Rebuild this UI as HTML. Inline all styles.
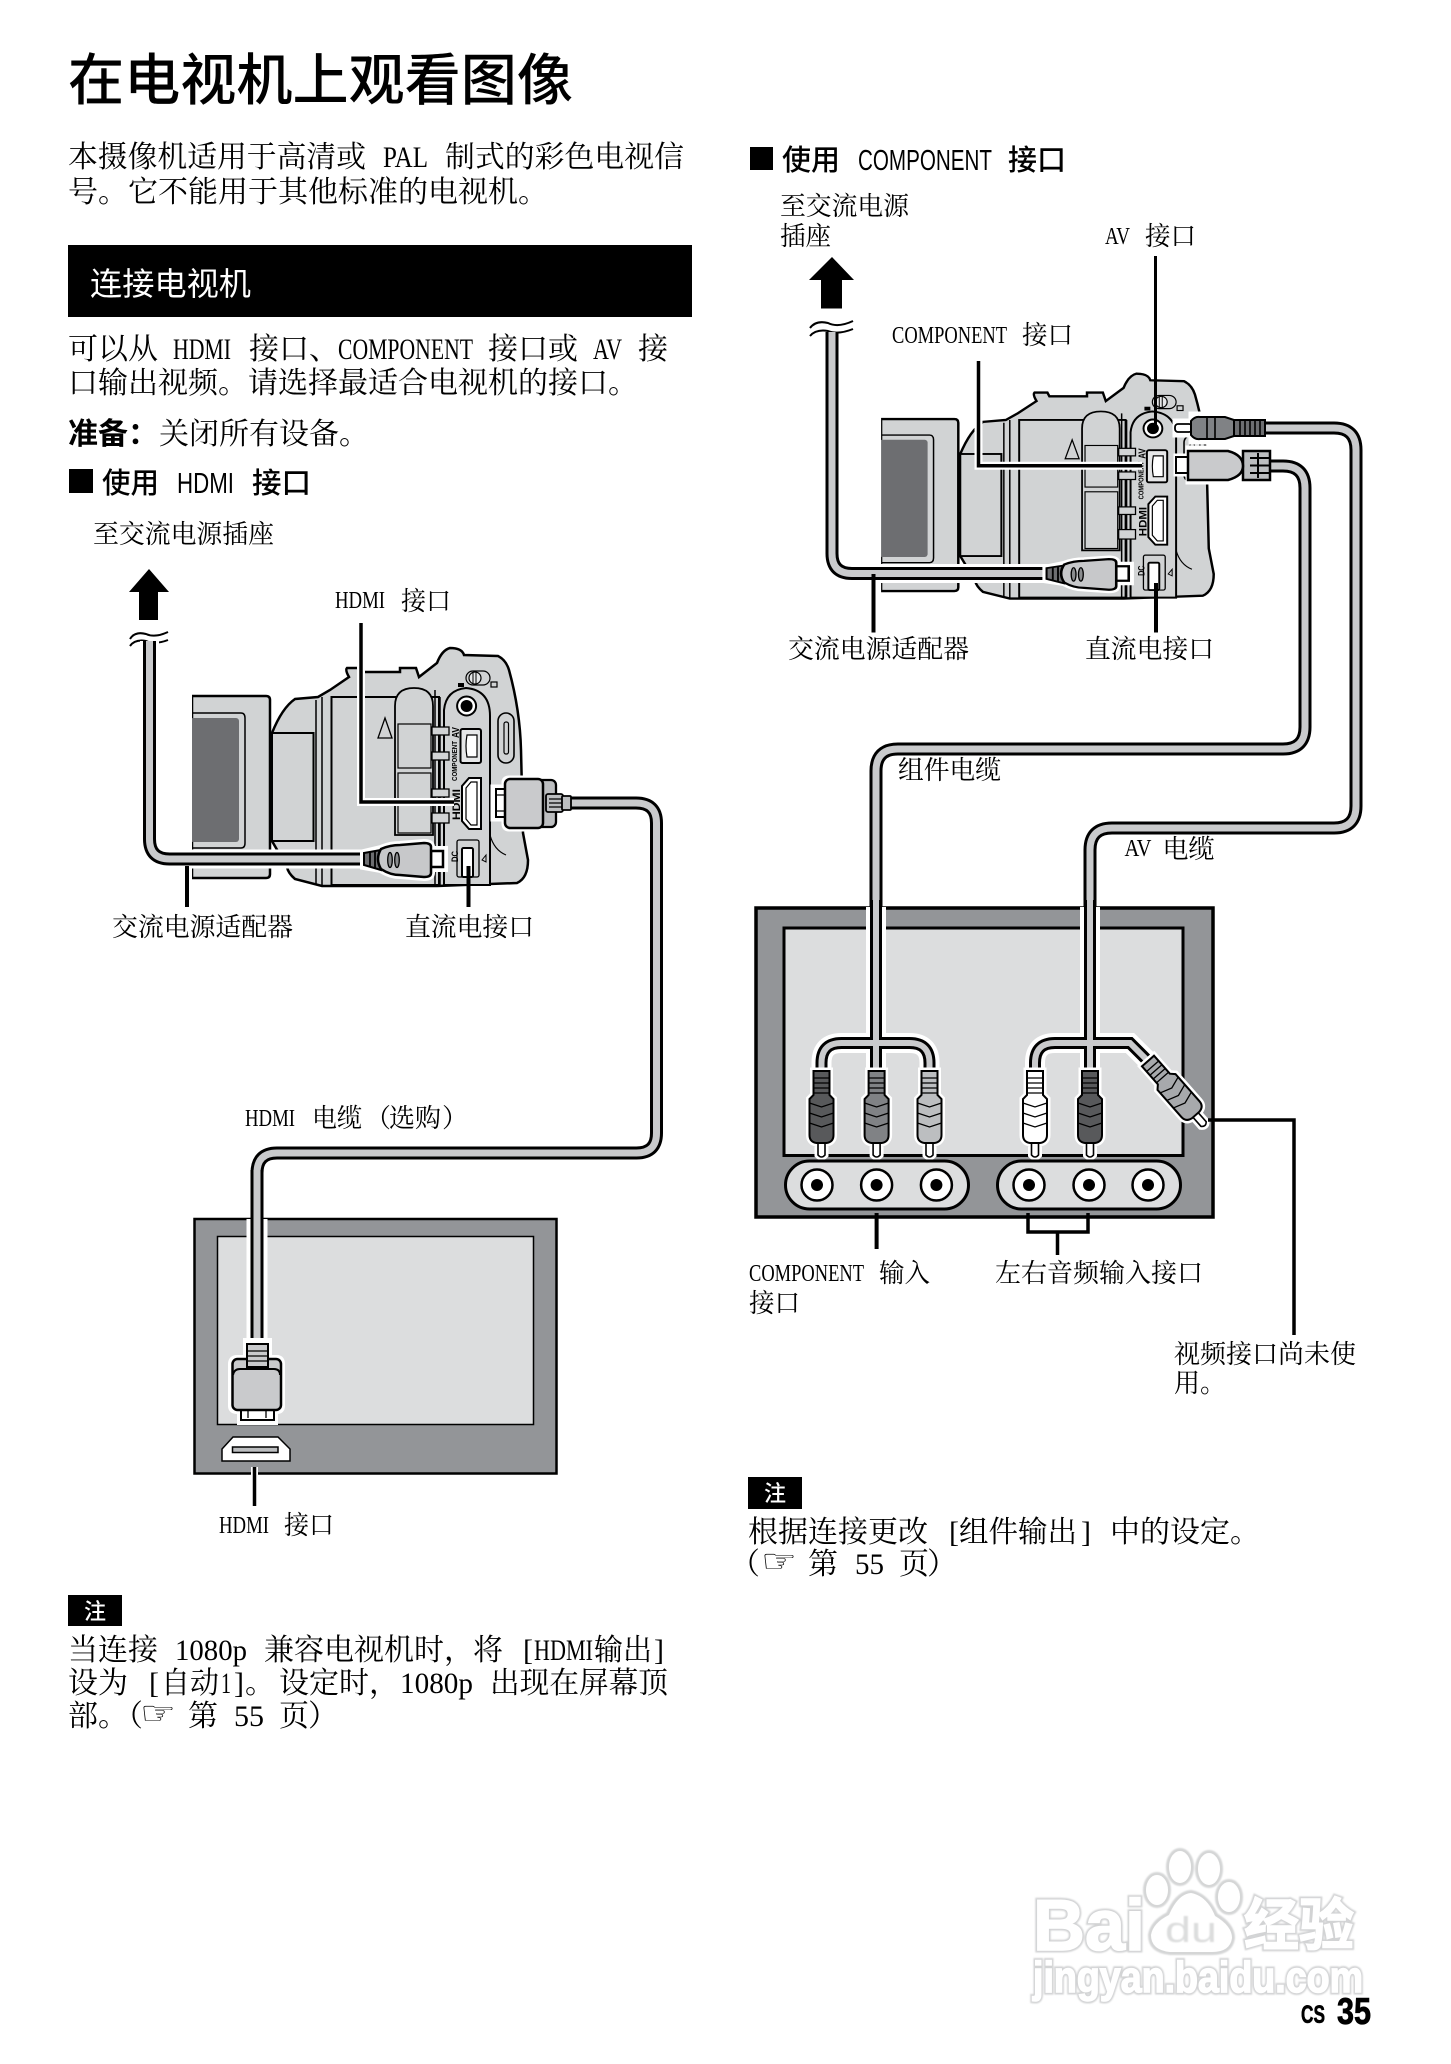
<!DOCTYPE html>
<html lang="zh"><head><meta charset="utf-8"><title>在电视机上观看图像</title>
<style>
html,body{margin:0;padding:0;background:#fff}
svg{display:block}
.s{font-family:"Noto Serif CJK SC","Liberation Serif",serif;fill:#000}
.l{font-family:"Liberation Serif","Noto Serif CJK SC",serif;fill:#000}
.h{font-family:"Noto Sans CJK SC","Liberation Sans",sans-serif;fill:#000}
.a{font-family:"Liberation Sans","Noto Sans CJK SC",sans-serif;fill:#000}
.p{font-size:30px}.q{font-size:26px}.m{font-size:24px}
</style></head><body>
<svg xmlns="http://www.w3.org/2000/svg" width="1451" height="2064" viewBox="0 0 1451 2064">
<defs>
<filter id="bl" x="-5%" y="-10%" width="110%" height="120%"><feGaussianBlur stdDeviation="0.9"/></filter>
<g id="cam" stroke="#000" stroke-width="2" fill="#d1d3d4">
<path d="M192 696H266Q270 696 270 700V874Q270 878 266 878H192Z" stroke-width="2.500"/>
<path d="M192 713H241Q245 713 245 718V843Q245 848 241 848H192" fill="none" stroke-width="1.500"/>
<rect x="190" y="718" width="49" height="124" rx="3" fill="#6d6e71" stroke="none"/>
<rect x="189" y="690" width="3" height="195" fill="#fff" stroke="none"/>
<path d="M272 733Q282 708 295 699L318 697L330 690L349 677Q345 670 347 668H360L362 672H400V668H416L419 677L437 663Q442 650 450 648Q462 648 464 655L498 656Q506 660 509 670Q520 710 521 750L523 833L528 860Q528 878 517 883L437 886H322L295 879Q288 873 287 867L272 841Z" stroke-width="2.500"/>
<rect x="272" y="733" width="41.500" height="108" fill="#d1d3d4"/>
<path d="M316 700V885M322 697V885" fill="none" stroke-width="1.500"/>
<path d="M331.500 697V885H439V697Z" fill="#d1d3d4"/>
<path d="M395 835V706Q395 688 414 688Q433 688 433 706V835Z" stroke-width="1.800"/>
<rect x="398" y="724" width="33" height="44" fill="#d1d3d4" stroke-width="1.200"/>
<rect x="398" y="773" width="33" height="60" fill="#d1d3d4" stroke-width="1.200"/>
<path d="M378 738L385 718L392 738Z" fill="#d1d3d4" stroke-width="1.300"/>
<path d="M435 690V885M440 697V885" fill="none" stroke-width="1.500"/>
<path d="M444 885V710Q446 690 466 688Q490 690 490 716V885Z" fill="#d1d3d4"/>
<g fill="#d1d3d4" stroke-width="1.300"><rect x="432" y="727" width="17" height="8"/><rect x="432" y="752" width="17" height="8"/><rect x="432" y="789" width="17" height="8"/><rect x="432" y="813" width="17" height="10"/></g>
<circle cx="466.600" cy="706" r="9.500" fill="#fff"/><circle cx="466.600" cy="706" r="6" fill="#000" stroke="none"/>
<rect x="460.500" y="729" width="20.500" height="34" rx="2" fill="#e6e7e8"/><path d="M467 735H477V757H467Q465 746 467 735Z" fill="#fff" stroke-width="1.200"/>
<path d="M462 786L469 778H481V829H469L462 821Z" fill="#fff"/><path d="M466 788L471 782H477V825H471L466 819Z" fill="#fff" stroke-width="1.200"/>
<rect x="457" y="840" width="22" height="37" rx="2" fill="#d1d3d4" stroke-width="1.300"/>
<rect x="462" y="848" width="11" height="29" rx="1.500" fill="#fff"/>
<rect x="498" y="713" width="16" height="50" rx="8" fill="#d1d3d4" stroke-width="1.600"/><rect x="504" y="722" width="4.500" height="32" rx="2" fill="#d1d3d4" stroke-width="1.200"/>
<rect x="466" y="671" width="24" height="14" rx="7" fill="#d1d3d4" stroke-width="1.200"/><circle cx="475" cy="678" r="6" fill="#e6e7e8" stroke-width="1.200"/>
<path d="M476 672V684M473 672V684" stroke-width="1" fill="none"/>
<rect x="458" y="683" width="6" height="4" fill="#000" stroke="none"/><rect x="491" y="682" width="6" height="5" fill="none" stroke-width="1.200"/>
<path d="M482 860L486 855V862Z" fill="none" stroke-width="1"/>
<path d="M490 835Q494 850 506 855" fill="none" stroke-width="1.200"/>
<g class="a" font-weight="700" stroke="none" fill="#000">
<text transform="translate(459,738) rotate(-90)" font-size="10" textLength="11" lengthAdjust="spacingAndGlyphs">AV</text>
<text transform="translate(457,781) rotate(-90)" font-size="7" textLength="40" lengthAdjust="spacingAndGlyphs">COMPONENT</text>
<text transform="translate(460,820) rotate(-90)" font-size="11" textLength="31" lengthAdjust="spacingAndGlyphs">HDMI</text>
<text transform="translate(458,862) rotate(-90)" font-size="9" textLength="11" lengthAdjust="spacingAndGlyphs">DC</text>
</g>
</g>
<g id="dcplug">
<path d="M364 853L381 849Q390 845 400 845L424 843Q431 843 431 847V850H444V868H431V873Q431 877 424 877L400 875Q390 875 381 869L364 866Z" fill="#fff" stroke="#fff" stroke-width="8"/>
<path d="M431 851H443V867H431Z" fill="#fff" stroke="#000" stroke-width="2.500"/>
<path d="M364 853L381 850V870L364 865Z" fill="#6d6e71" stroke="#000" stroke-width="2"/>
<path d="M370 852V866M375 851V868" stroke="#000" stroke-width="1.800"/>
<path d="M381 849Q390 845 400 845L424 843Q431 843 431 847V873Q431 877 424 877L400 875Q390 875 381 869Q375 859 381 849Z" fill="#c7c8ca" stroke="#000" stroke-width="2.500"/>
<ellipse cx="390" cy="860" rx="2.300" ry="7.500" fill="#8a8c8e" stroke="#000" stroke-width="1.300"/>
<ellipse cx="397" cy="860" rx="2.300" ry="7.500" fill="#8a8c8e" stroke="#000" stroke-width="1.300"/>
</g>
<g id="rca">
<path d="M-8 0H8V24L12 28V64Q12 71 5 72H3.500V84Q0 88 -3.500 84V72H-5Q-12 71 -12 64V28L-8 24Z" fill="#fff" stroke="#fff" stroke-width="7"/>
<path d="M-3.500 70H3.500V84Q0 88 -3.500 84Z" fill="#fff" stroke="#000" stroke-width="1.600"/>
<path d="M-8 0H8V24L12 28V64Q12 71 5 72H-5Q-12 71 -12 64V28L-8 24Z" fill="currentColor" stroke="#000" stroke-width="2"/>
<path d="M-8 7H8M-8 12H8M-8 17H8M-8 22H8M-12 32L0 36L12 32M-12 42L0 46L12 42M-12 52L0 56L12 52" stroke="#000" stroke-width="1.300" fill="none"/>
</g>
<path id="c1" d="M149.500 641V839Q149.500 859 169.500 859H366"/>
<path id="c2" d="M569 803H636Q656.500 803 656.500 823V1133Q656.500 1153 636.500 1153H277Q257 1153 257 1173V1346"/>
<path id="c3" d="M832 332V553.500Q832 573.500 852 573.500H1049"/>
<path id="c4" d="M1263 428H1334Q1356 428 1356 450V806Q1356 828 1334 828H1112Q1090 828 1090 850V1075"/>
<path id="c5" d="M1268 466H1283Q1305 466 1305 488V727Q1305 749 1283 749H898Q876 749 876 771V1075"/>
<path id="b1" d="M821.500 1075V1063Q821.500 1043 841.500 1043H909.500Q929.500 1043 929.500 1063V1075"/>
<path id="b2" d="M1035 1075V1063Q1035 1043 1055 1043H1130L1150 1063"/>
</defs>

<rect width="1451" height="2064" fill="#fff"/>

<!-- Title and intro -->
<text x="68" y="100" class="h" font-size="56" font-weight="500" textLength="505" lengthAdjust="spacingAndGlyphs">在电视机上观看图像</text>
<g class="p">
<text x="68" y="167" class="s" textLength="298" lengthAdjust="spacingAndGlyphs">本摄像机适用于高清或</text>
<text x="383" y="167" class="l" textLength="45" lengthAdjust="spacingAndGlyphs">PAL</text>
<text x="445" y="167" class="s" textLength="239" lengthAdjust="spacingAndGlyphs">制式的彩色电视信</text>
<text x="68" y="202" class="s" textLength="480" lengthAdjust="spacingAndGlyphs">号。它不能用于其他标准的电视机。</text>
</g>
<rect x="68" y="245" width="624" height="72"/>
<text x="90" y="295" class="h" font-size="32" style="fill:#fff" textLength="161" lengthAdjust="spacingAndGlyphs">连接电视机</text>

<g class="p">
<text x="68" y="359" class="s" textLength="90" lengthAdjust="spacingAndGlyphs">可以从</text>
<text x="173" y="359" class="l" textLength="58" lengthAdjust="spacingAndGlyphs">HDMI</text>
<text x="249" y="359" class="s" textLength="90" lengthAdjust="spacingAndGlyphs">接口、</text>
<text x="338" y="359" class="l" textLength="135" lengthAdjust="spacingAndGlyphs">COMPONENT</text>
<text x="488" y="359" class="s" textLength="90" lengthAdjust="spacingAndGlyphs">接口或</text>
<text x="593" y="359" class="l" textLength="29" lengthAdjust="spacingAndGlyphs">AV</text>
<text x="638" y="359" class="s" textLength="30" lengthAdjust="spacingAndGlyphs">接</text>
<text x="68" y="393" class="s" textLength="570" lengthAdjust="spacingAndGlyphs">口输出视频。请选择最适合电视机的接口。</text>
<text x="68" y="444" class="h" font-weight="700" textLength="90" lengthAdjust="spacingAndGlyphs">准备：</text>
<text x="159" y="444" class="s" textLength="210" lengthAdjust="spacingAndGlyphs">关闭所有设备。</text>
</g>

<rect x="69" y="469" width="24" height="24"/>
<text x="102" y="493" class="h" font-size="29" font-weight="500" textLength="57" lengthAdjust="spacingAndGlyphs">使用</text>
<text x="177" y="493" class="a" font-size="29" textLength="57" lengthAdjust="spacingAndGlyphs">HDMI</text>
<text x="252" y="493" class="h" font-size="29" font-weight="500" textLength="59" lengthAdjust="spacingAndGlyphs">接口</text>

<!-- LEFT DIAGRAM -->
<text x="93" y="543" class="s q" textLength="181" lengthAdjust="spacingAndGlyphs">至交流电源插座</text>
<path d="M149 569L169 592H158V620H139V592H129Z"/>
<path d="M130 639Q135 631 146 634Q155 638 168 632M130 646Q135 639 146 641Q155 645 168 640" fill="none" stroke="#000" stroke-width="2"/>
<text x="335" y="608" class="l m" textLength="50" lengthAdjust="spacingAndGlyphs">HDMI</text>
<text x="401" y="610" class="s q" textLength="50" lengthAdjust="spacingAndGlyphs">接口</text>

<use href="#cam"/>

<g fill="none" stroke-linecap="butt">
<use href="#c1" stroke="#fff" stroke-width="19"/>
<use href="#c1" stroke="#000" stroke-width="13"/>
<use href="#c1" stroke="#c9cacc" stroke-width="7"/>
</g>
<path d="M361 623V802H454" fill="none" stroke="#fff" stroke-width="8"/>
<path d="M361 623V802H454" fill="none" stroke="#000" stroke-width="3.500"/>
<use href="#dcplug"/>
<path d="M187 866V907M468.500 866V907" stroke="#000" stroke-width="4" fill="none"/>

<!-- left HDMI plug -->
<path d="M494 788H505V782Q505 779 509 779H551Q555 779 555 783V792H566V813H555V824Q555 828 551 828H509Q505 828 505 824V818H494Z" fill="#fff" stroke="#fff" stroke-width="7"/>
<g fill="none">
<use href="#c2" stroke="#000" stroke-width="13"/>
<use href="#c2" stroke="#c9cacc" stroke-width="7"/>
</g>
<rect x="496" y="789" width="12" height="28" fill="#fff" stroke="#000" stroke-width="2"/>
<path d="M497 795H507M497 811H507" stroke="#000" stroke-width="1.300"/>
<rect x="535" y="780" width="21" height="47" rx="5" fill="#bcbec0" stroke="#000" stroke-width="2.300"/>
<rect x="505" y="779" width="38" height="49" rx="5" fill="#c9cacc" stroke="#000" stroke-width="2.500"/>
<rect x="546" y="794" width="17" height="18" rx="2" fill="#bcbec0" stroke="#000" stroke-width="1.800"/>
<rect x="562" y="796" width="9" height="14" rx="1" fill="#bcbec0" stroke="#000" stroke-width="1.800"/>
<path d="M549 799H562M549 803H562M549 807H562" stroke="#000" stroke-width="1.200"/>

<text x="112" y="936" class="s q" textLength="181" lengthAdjust="spacingAndGlyphs">交流电源适配器</text>
<text x="405" y="936" class="s q" textLength="129" lengthAdjust="spacingAndGlyphs">直流电接口</text>

<text x="245" y="1126" class="l m" textLength="50" lengthAdjust="spacingAndGlyphs">HDMI</text>
<text x="312" y="1127" class="s q" textLength="50" lengthAdjust="spacingAndGlyphs">电缆</text>
<text x="365" y="1127" class="s q" textLength="26" lengthAdjust="spacingAndGlyphs">（</text>
<text x="389" y="1127" class="s q" textLength="52" lengthAdjust="spacingAndGlyphs">选购</text>
<text x="442" y="1127" class="s q" textLength="26" lengthAdjust="spacingAndGlyphs">）</text>

<!-- left TV -->
<rect x="194.500" y="1219" width="362" height="254.500" fill="#939598" stroke="#000" stroke-width="2.500"/>
<rect x="217.500" y="1236.500" width="316" height="188" fill="#dcddde" stroke="#000" stroke-width="1.500"/>
<path d="M222 1461V1449L233 1437H278L290 1449V1461Z" fill="#fff" stroke="#000" stroke-width="1.500"/>
<rect x="232.500" y="1447" width="45.500" height="5.500" fill="#bcbec0" stroke="#000" stroke-width="1.500"/>
<path d="M254.500 1467V1506" stroke="#fff" stroke-width="7"/><path d="M254.500 1467V1506" stroke="#000" stroke-width="3.500"/>
<path d="M257 1219V1346" stroke="#fff" stroke-width="21" fill="none"/>
<g fill="none">
<path d="M257 1170V1346" stroke="#000" stroke-width="13"/>
<path d="M257 1170V1346" stroke="#c9cacc" stroke-width="7"/>
</g>
<path d="M247 1342H268V1359H277Q281 1359 281 1364V1406Q281 1410 277 1410H274V1421H241V1410H237Q232 1410 232 1406V1364Q232 1359 237 1359H247Z" fill="#fff" stroke="#fff" stroke-width="8"/>
<rect x="241" y="1408" width="33" height="12" fill="#fff" stroke="#000" stroke-width="2"/>
<path d="M248 1410V1418M266 1410V1418" stroke="#000" stroke-width="1.300"/>
<rect x="232.500" y="1359" width="48.500" height="51" rx="5" fill="#c9cacc" stroke="#000" stroke-width="2.500"/>
<path d="M233 1375Q234 1369 240 1369H274Q280 1369 280 1375" fill="none" stroke="#000" stroke-width="2"/>
<rect x="247" y="1344" width="21" height="23" fill="#c9cacc" stroke="#000" stroke-width="2"/>
<path d="M247 1351H268M247 1356H268M247 1361H268" stroke="#000" stroke-width="1.300"/>
<text x="219" y="1533" class="l m" textLength="50" lengthAdjust="spacingAndGlyphs">HDMI</text>
<text x="284" y="1534" class="s q" textLength="50" lengthAdjust="spacingAndGlyphs">接口</text>

<!-- left note -->
<rect x="68" y="1595" width="54" height="31"/>
<text x="84" y="1619" class="h" font-size="22" font-weight="500" style="fill:#fff">注</text>
<g class="p">
<text x="68" y="1660" class="s" textLength="90" lengthAdjust="spacingAndGlyphs">当连接</text>
<text x="175" y="1660" class="l" textLength="72" lengthAdjust="spacingAndGlyphs">1080p</text>
<text x="264" y="1660" class="s" textLength="210" lengthAdjust="spacingAndGlyphs">兼容电视机时，</text>
<text x="473" y="1660" class="s" textLength="30" lengthAdjust="spacingAndGlyphs">将</text>
<text x="523" y="1660" class="l" textLength="10" lengthAdjust="spacingAndGlyphs">[</text>
<text x="534" y="1660" class="l" textLength="59" lengthAdjust="spacingAndGlyphs">HDMI</text>
<text x="594" y="1660" class="s" textLength="58" lengthAdjust="spacingAndGlyphs">输出</text>
<text x="654" y="1660" class="l" textLength="10" lengthAdjust="spacingAndGlyphs">]</text>
<text x="68" y="1693" class="s" textLength="60" lengthAdjust="spacingAndGlyphs">设为</text>
<text x="149" y="1693" class="l" textLength="10" lengthAdjust="spacingAndGlyphs">[</text>
<text x="161" y="1693" class="s" textLength="58" lengthAdjust="spacingAndGlyphs">自动</text>
<text x="221" y="1693" class="l" textLength="10" lengthAdjust="spacingAndGlyphs">1</text>
<text x="234" y="1693" class="l" textLength="10" lengthAdjust="spacingAndGlyphs">]</text>
<text x="245" y="1693" class="s" textLength="30" lengthAdjust="spacingAndGlyphs">。</text>
<text x="279" y="1693" class="s" textLength="120" lengthAdjust="spacingAndGlyphs">设定时，</text>
<text x="400" y="1693" class="l" textLength="73" lengthAdjust="spacingAndGlyphs">1080p</text>
<text x="490" y="1693" class="s" textLength="178" lengthAdjust="spacingAndGlyphs">出现在屏幕顶</text>
<text x="68" y="1726" class="s" textLength="60" lengthAdjust="spacingAndGlyphs">部。</text>
<text x="113" y="1726" class="s" textLength="30" lengthAdjust="spacingAndGlyphs">（</text>
<text x="140" y="1724" font-family="DejaVu Sans" font-size="32" textLength="36" lengthAdjust="spacingAndGlyphs">☞</text>
<text x="188" y="1726" class="s" textLength="30" lengthAdjust="spacingAndGlyphs">第</text>
<text x="234" y="1726" class="l" textLength="30" lengthAdjust="spacingAndGlyphs">55</text>
<text x="279" y="1726" class="s" textLength="30" lengthAdjust="spacingAndGlyphs">页</text>
<text x="308" y="1726" class="s" textLength="30" lengthAdjust="spacingAndGlyphs">）</text>
</g>

<!-- RIGHT DIAGRAM -->
<rect x="750" y="147" width="23" height="23"/>
<text x="782" y="170" class="h" font-size="29" font-weight="500" textLength="58" lengthAdjust="spacingAndGlyphs">使用</text>
<text x="858" y="170" class="a" font-size="29" textLength="134" lengthAdjust="spacingAndGlyphs">COMPONENT</text>
<text x="1008" y="170" class="h" font-size="29" font-weight="500" textLength="58" lengthAdjust="spacingAndGlyphs">接口</text>

<text x="780" y="215" class="s q" textLength="129" lengthAdjust="spacingAndGlyphs">至交流电源</text>
<text x="780" y="245" class="s q" textLength="51" lengthAdjust="spacingAndGlyphs">插座</text>
<text x="1105" y="244" class="l m" textLength="25" lengthAdjust="spacingAndGlyphs">AV</text>
<text x="1145" y="245" class="s q" textLength="51" lengthAdjust="spacingAndGlyphs">接口</text>
<text x="892" y="343" class="l m" textLength="115" lengthAdjust="spacingAndGlyphs">COMPONENT</text>
<text x="1022" y="344" class="s q" textLength="51" lengthAdjust="spacingAndGlyphs">接口</text>

<path d="M832 257L854 280H842V308.500H821V280H809Z"/>
<path d="M810 328Q816 320 828 323Q838 328 853 321M810 336Q816 329 828 331Q838 335 853 329" fill="none" stroke="#000" stroke-width="2"/>

<g transform="matrix(.99 0 0 .945 691 -238.700)"><use href="#cam"/></g>

<!-- right AC cable -->
<g fill="none">
<path d="M860 573.500H1049" stroke="#fff" stroke-width="19"/>
<use href="#c3" stroke="#000" stroke-width="13"/>
<use href="#c3" stroke="#c9cacc" stroke-width="7"/>
</g>
<g transform="matrix(1.040 0 0 .9 668 -199.600)"><use href="#dcplug"/></g>
<path d="M873.500 574V632.500M1156 583V632.500" stroke="#000" stroke-width="4"/>
<path d="M978.500 361V465.700H1142" fill="none" stroke="#fff" stroke-width="8"/>
<path d="M978.500 361V465.700H1142" fill="none" stroke="#000" stroke-width="3.500"/>
<path d="M1155.500 256V425" stroke="#000" stroke-width="3"/>

<!-- right upper plug halos, cables, plugs -->
<path d="M1175 421H1191V414H1234V417H1262V439H1234V442H1191V435H1175Z" fill="#fff" stroke="#fff" stroke-width="5"/>
<path d="M1176 456H1188V448H1243V449H1266V481H1243V482H1188V474H1176Z" fill="#fff" stroke="#fff" stroke-width="5"/>
<g fill="none">
<use href="#c4" stroke="#000" stroke-width="13"/>
<use href="#c4" stroke="#c9cacc" stroke-width="7"/>
<use href="#c5" stroke="#000" stroke-width="13"/>
<use href="#c5" stroke="#c9cacc" stroke-width="7"/>
</g>
<rect x="1175" y="424" width="17" height="8" rx="3" fill="#fff" stroke="#000" stroke-width="1.800"/>
<path d="M1191 421Q1195 416 1200 417H1225L1234 420V436L1225 439H1200Q1195 440 1191 435Z" fill="#808285" stroke="#000" stroke-width="2"/>
<rect x="1234" y="420" width="31" height="16" fill="#6d6e71" stroke="#000" stroke-width="2"/>
<path d="M1240 420V436M1245 420V436M1250 420V436M1255 420V436M1260 420V436M1207 417V439M1215 417V439" stroke="#000" stroke-width="1.600"/>
<rect x="1176" y="457" width="13" height="16" fill="#fff" stroke="#000" stroke-width="2"/>
<rect x="1243" y="451" width="27" height="29" fill="#bcbec0" stroke="#000" stroke-width="2.500"/>
<path d="M1258 453V478M1250 458H1270M1250 465.500H1270M1250 473H1270" stroke="#000" stroke-width="2"/>
<path d="M1188 451H1228Q1243 455 1243 466Q1243 476 1228 480H1188Z" fill="#c9cacc" stroke="#000" stroke-width="2.500"/>

<text x="788" y="658" class="s q" textLength="181" lengthAdjust="spacingAndGlyphs">交流电源适配器</text>
<text x="1085" y="658" class="s q" textLength="129" lengthAdjust="spacingAndGlyphs">直流电接口</text>
<text x="898" y="779" class="s q" textLength="103" lengthAdjust="spacingAndGlyphs">组件电缆</text>
<text x="1124.500" y="856" class="l m" textLength="27" lengthAdjust="spacingAndGlyphs">AV</text>
<text x="1162.500" y="858" class="s q" textLength="52" lengthAdjust="spacingAndGlyphs">电缆</text>

<!-- right TV -->
<rect x="756" y="908" width="457" height="309" fill="#939598" stroke="#000" stroke-width="3.500"/>
<rect x="784" y="928" width="399" height="227.500" fill="#dcddde" stroke="#000" stroke-width="3"/>
<g fill="none">
<path d="M876 907V1075M1090 907V1075" stroke="#fff" stroke-width="20"/>
<use href="#b1" stroke="#fff" stroke-width="20"/>
<use href="#b2" stroke="#fff" stroke-width="20"/>
<path d="M876 900V1075M1090 900V1075" stroke="#000" stroke-width="12"/>
<use href="#b1" stroke="#000" stroke-width="12"/>
<use href="#b2" stroke="#000" stroke-width="12"/>
<path d="M876 900V1075M1090 900V1075" stroke="#c9cacc" stroke-width="6"/>
<use href="#b1" stroke="#c9cacc" stroke-width="6"/>
<use href="#b2" stroke="#c9cacc" stroke-width="6"/>
</g>
<use href="#rca" transform="translate(821.500 1071)" style="color:#58595b"/>
<use href="#rca" transform="translate(876.600 1071)" style="color:#808285"/>
<use href="#rca" transform="translate(929.500 1071)" style="color:#bcbec0"/>
<use href="#rca" transform="translate(1035 1071)" style="color:#fff"/>
<use href="#rca" transform="translate(1090 1071)" style="color:#58595b"/>
<use href="#rca" transform="translate(1148 1061) rotate(-41.400)" style="color:#a7a9ac"/>

<rect x="785.500" y="1161" width="183" height="48" rx="24" fill="#dcddde" stroke="#000" stroke-width="3"/>
<rect x="997.500" y="1161" width="183" height="48" rx="24" fill="#dcddde" stroke="#000" stroke-width="3"/>
<g fill="#fff" stroke="#000" stroke-width="2.500">
<circle cx="817" cy="1185" r="15.500"/><circle cx="876.600" cy="1185" r="15.500"/><circle cx="936.400" cy="1185" r="15.500"/>
<circle cx="1029" cy="1185" r="15.500"/><circle cx="1089" cy="1185" r="15.500"/><circle cx="1148" cy="1185" r="15.500"/>
</g>
<g><circle cx="817" cy="1185" r="6"/><circle cx="876.600" cy="1185" r="6"/><circle cx="936.400" cy="1185" r="6"/>
<circle cx="1029" cy="1185" r="6"/><circle cx="1089" cy="1185" r="6"/><circle cx="1148" cy="1185" r="6"/></g>

<path d="M876.600 1213V1249" stroke="#000" stroke-width="4"/>
<path d="M1028 1213V1232H1088V1213M1057.500 1232V1255" fill="none" stroke="#000" stroke-width="3.500"/>
<path d="M1208 1120H1294V1335" fill="none" stroke="#000" stroke-width="3.500"/>

<text x="749" y="1281" class="l m" textLength="115" lengthAdjust="spacingAndGlyphs">COMPONENT</text>
<text x="879" y="1282" class="s q" textLength="51" lengthAdjust="spacingAndGlyphs">输入</text>
<text x="749" y="1312" class="s q" textLength="51" lengthAdjust="spacingAndGlyphs">接口</text>
<text x="995" y="1282" class="s q" textLength="208" lengthAdjust="spacingAndGlyphs">左右音频输入接口</text>
<text x="1174" y="1363" class="s q" textLength="182" lengthAdjust="spacingAndGlyphs">视频接口尚未使</text>
<text x="1174" y="1392" class="s q" textLength="52" lengthAdjust="spacingAndGlyphs">用。</text>

<!-- right note -->
<rect x="748" y="1477" width="54" height="32"/>
<text x="764" y="1501" class="h" font-size="22" font-weight="500" style="fill:#fff">注</text>
<g class="p">
<text x="748" y="1542" class="s" textLength="180" lengthAdjust="spacingAndGlyphs">根据连接更改</text>
<text x="949" y="1542" class="l" textLength="10" lengthAdjust="spacingAndGlyphs">[</text>
<text x="959" y="1542" class="s" textLength="118" lengthAdjust="spacingAndGlyphs">组件输出</text>
<text x="1081" y="1542" class="l" textLength="10" lengthAdjust="spacingAndGlyphs">]</text>
<text x="1110" y="1542" class="s" textLength="150" lengthAdjust="spacingAndGlyphs">中的设定。</text>
<text x="730" y="1574" class="s" textLength="30" lengthAdjust="spacingAndGlyphs">（</text>
<text x="761" y="1572" font-family="DejaVu Sans" font-size="32" textLength="36" lengthAdjust="spacingAndGlyphs">☞</text>
<text x="808" y="1574" class="s" textLength="30" lengthAdjust="spacingAndGlyphs">第</text>
<text x="855" y="1574" class="l" textLength="29" lengthAdjust="spacingAndGlyphs">55</text>
<text x="899" y="1574" class="s" textLength="30" lengthAdjust="spacingAndGlyphs">页</text>
<text x="927" y="1574" class="s" textLength="30" lengthAdjust="spacingAndGlyphs">）</text>
</g>

<!-- watermark -->
<g filter="url(#bl)" fill="none" stroke="#d4d5d6" stroke-width="4">
<ellipse cx="1157" cy="1890" rx="12" ry="16"/>
<ellipse cx="1180" cy="1867" rx="12" ry="17"/>
<ellipse cx="1209" cy="1869" rx="12" ry="17"/>
<ellipse cx="1229" cy="1897" rx="12" ry="16"/>
<path d="M1191 1892Q1207 1895 1216 1915Q1233 1925 1233 1938Q1231 1953 1212 1953H1170Q1150 1951 1150 1935Q1152 1922 1168 1914Q1177 1893 1191 1892Z"/>
</g>
<g fill="#fff">
<ellipse cx="1157" cy="1890" rx="11" ry="15"/>
<ellipse cx="1180" cy="1867" rx="11" ry="16"/>
<ellipse cx="1209" cy="1869" rx="11" ry="16"/>
<ellipse cx="1229" cy="1897" rx="11" ry="15"/>
<path d="M1191 1893Q1207 1896 1215 1916Q1232 1926 1232 1938Q1230 1952 1212 1952H1170Q1151 1950 1151 1935Q1153 1923 1169 1915Q1178 1894 1191 1893Z"/>
</g>
<g font-family="Liberation Sans" font-weight="700" filter="url(#bl)" fill="none" stroke="#d2d3d4" stroke-width="5">
<text x="1033" y="1950" font-size="72" textLength="112" lengthAdjust="spacingAndGlyphs">Bai</text>
<text x="1033" y="1992" font-size="44" textLength="330" lengthAdjust="spacingAndGlyphs">jingyan.baidu.com</text>
<text x="1244" y="1945" font-family="Noto Sans CJK SC" font-size="56" textLength="110" lengthAdjust="spacingAndGlyphs">经验</text>
</g>
<g font-family="Liberation Sans" font-weight="700" fill="#fff" stroke="#fff" stroke-width="1.500">
<text x="1033" y="1950" font-size="72" textLength="112" lengthAdjust="spacingAndGlyphs">Bai</text>
<text x="1033" y="1992" font-size="44" textLength="330" lengthAdjust="spacingAndGlyphs">jingyan.baidu.com</text>
<text x="1244" y="1945" font-family="Noto Sans CJK SC" font-size="56" textLength="110" lengthAdjust="spacingAndGlyphs">经验</text>
</g>
<text x="1165" y="1942" font-family="Liberation Sans" font-size="36" textLength="52" lengthAdjust="spacingAndGlyphs" fill="#dcdddd" filter="url(#bl)">du</text>

<!-- page number -->
<text x="1301" y="2023" class="a" font-size="25" font-weight="700" stroke="#000" stroke-width=".6" textLength="24" lengthAdjust="spacingAndGlyphs">CS</text>
<text x="1337" y="2024" class="a" font-size="37" font-weight="700" stroke="#000" stroke-width=".8" textLength="34" lengthAdjust="spacingAndGlyphs">35</text>
</svg>
</body></html>
